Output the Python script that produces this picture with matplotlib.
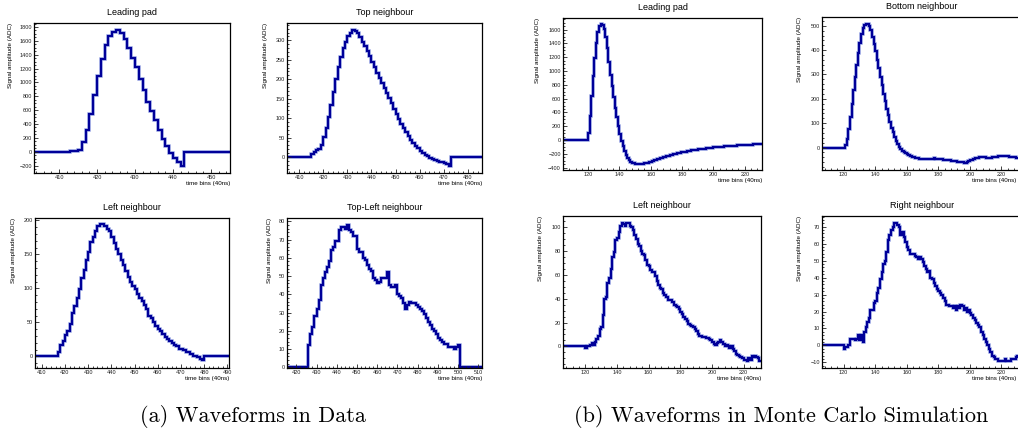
import numpy as np
import matplotlib
matplotlib.use("Agg")
import matplotlib.pyplot as plt
from matplotlib.ticker import MultipleLocator, AutoMinorLocator

plt.rcParams['font.family'] = ['Liberation Sans', 'DejaVu Sans']

# ---- data: waveforms (one value per time bin, starting at *_start) ----
# (a) data
lead_data_start = 412
lead_data = [-5, 5, 10, 25, 145, 310, 540, 815, 1090, 1345, 1535, 1670, 1735, 1750, 1710,
             1630, 1500, 1355, 1220, 1045, 885, 720, 590, 455, 310, 190, 80, -15, -85,
             -145, -210]

top_data_start = 415
top_data = [8, 12, 17, 21, 30, 52, 75, 102, 135, 167, 200, 232, 257, 280, 297, 310, 320,
            326, 325, 318, 308, 297, 285, 272, 259, 245, 231, 217, 203, 190, 178, 165,
            152, 138, 124, 110, 97, 86, 75, 64, 54, 45, 37, 29, 22, 16, 11, 6, 2, -2, -5,
            -8, -10, -12, -14, -16, -19, -22]

left_data_start = 417
left_data = [6, 16, 22, 31, 37, 47, 64, 74, 86, 99, 115, 127, 142, 154, 168, 176, 185, 191,
             194, 194, 191, 187, 184, 176, 167, 158, 150, 142, 135, 125, 117, 110, 104, 99,
             91, 86, 81, 76, 70, 60, 56, 51, 44, 40, 37, 33, 29, 26, 22, 20, 17, 15, 11,
             11, 9, 7, 6, 4, 1, 0, -1.5, -3.4, -6]

topleft_data_start = 426
topleft_data = [12, 18, 22, 28, 32, 37, 45, 49, 52, 55, 58, 64, 66, 69, 69, 75, 77, 77, 76,
                78, 75, 74, 72, 72, 65, 63, 63, 60, 59, 56, 54, 53, 49, 48, 46, 47, 49,
                49, 49, 52, 45, 44, 44, 45, 40, 39, 38, 35, 32, 34, 36, 35, 35, 34, 33, 32,
                31, 29, 27, 25, 23, 21, 20, 18, 16, 15, 14, 13, 13, 11, 11, 11, 10, 11, 12]

# (b) Monte Carlo
lead_mc_start = 120
lead_mc = [100, 350, 640, 930, 1190, 1400, 1570, 1650, 1680, 1670, 1610, 1500, 1330, 1130,
           950, 780, 620, 470, 330, 200, 90,
           -10, -90, -160, -220, -260, -290, -315, -330, -340, -345, -348, -350, -350,
           -348, -345, -340, -335, -330, -322, -315,
           -305, -297, -289, -281, -273, -265, -257, -250, -243, -236, -229, -222, -216,
           -210, -204, -198, -192, -187, -181, -176,
           -172, -168, -164, -160, -156, -152, -148, -145, -141, -138, -135, -132, -129,
           -126, -123, -120, -117, -114, -111, -108,
           -106, -104, -102, -100, -98, -96, -94, -92, -90, -88, -86, -85, -83, -81, -80,
           -78, -76, -75, -73, -71,
           -70, -69, -68, -67, -65, -64, -63, -62, -61, -60, -59, -58, -58]

bottom_mc_start = 121
bottom_mc = [10, 35, 75, 125, 180, 235, 290, 340, 390, 430, 465, 490, 503, 507, 507, 500,
             482, 455, 425, 395, 360, 325, 290, 255, 222, 190, 160, 132, 105, 82, 62, 44,
             28, 14, 3, -6, -13, -19, -24, -28, -32, -35, -38, -40, -42, -43, -44, -45,
             -45, -46,
             -46, -47, -46, -45, -46, -45, -44, -45, -45, -46,
             -47, -48, -49, -50, -51, -52, -53, -54, -55, -56,
             -57, -58, -59, -60, -61, -62, -62, -61, -57, -53,
             -49, -46, -44, -42, -41, -40, -40, -39, -40, -41,
             -42, -42, -41, -40, -39, -38, -37, -36, -35, -35,
             -34, -34, -35, -36, -37, -38, -39, -40, -41, -42, -41, -40, -40]

left_mc_start = 120
left_mc = [-1, 0, 0, 1, 3, 1, 4, 6, 9, 15, 16, 26, 40, 41, 53, 57, 65, 75, 79, 89, 91, 96,
           101, 103, 102, 101, 103, 103, 101, 100, 97, 93, 90, 86, 84, 80, 77, 76, 72, 68,
           67, 64, 62, 62, 59, 55, 51, 49, 48, 45, 43, 41, 39, 39, 39, 37, 35, 34, 33, 31,
           29, 27, 25, 23, 21, 19, 18, 17, 16, 15, 13, 10, 9, 9, 8, 8, 7, 7, 6, 5, 4, 2,
           1, 3, 4, 5, 4, 2, 0, 1, 0, -1, 0, -2, -4, -6, -7, -8, -9, -10, -11, -11, -12,
           -10, -11, -8, -9, -8, -9, -10, -12, -12]

right_mc_start = 120
right_mc = [-2, -1, -1, 0, 4, 4, 4, 3, 4, 6, 3, 6, 2, 8, 11, 14, 16, 21, 21, 25, 26, 31, 34,
            39, 43, 48, 50, 55, 62, 65, 68, 70, 72, 72, 71, 70, 65, 67, 64, 61, 58, 56, 54,
            54, 54, 53, 52, 51, 52, 51, 49, 47, 45, 43, 44, 40, 39, 37, 35, 33, 32, 31, 30,
            28, 26, 24, 24, 23, 23, 22, 23, 21, 23, 22, 24, 23, 21, 22, 20, 21, 19, 18, 16,
            15, 13, 12, 11, 8, 6, 4, 2, 0, -2, -4, -6, -7, -8, -8, -9, -9, -9, -9, -8, -9,
            -9, -9, -8, -8, -8, -7, -6, -6, -5, -5]

titles = ["Leading pad", "Top neighbour", "Left neighbour", "Top-Left neighbour",
          "Leading pad", "Bottom neighbour", "Left neighbour", "Right neighbour"]
starts = [lead_data_start, top_data_start, left_data_start, topleft_data_start,
          lead_mc_start, bottom_mc_start, left_mc_start, right_mc_start]
waves = [lead_data, top_data, left_data, topleft_data,
         lead_mc, bottom_mc, left_mc, right_mc]

# ---- layout (pixels in a 1018x432 canvas) ----
W, H = 1018, 432
boxes = [(34, 230, 23, 173), (287, 482, 23, 173), (35, 229, 218, 368), (287, 482, 218, 368),
         (563, 762, 18, 170), (822, 1022, 17, 170), (563, 761, 216, 368), (822, 1022, 216, 368)]
xlims = [(403.4, 455), (405, 485.8), (407.1, 490.7), (415.4, 511.9),
         (104, 231), (106.3, 233), (105.9, 231), (106.3, 233)]
ylims = [(-307, 1858), (-41, 344.7), (-17.2, 203.4), (-0.4, 81.8),
         (-436, 1770), (-92, 536), (-18, 109), (-13.3, 76.3)]
xmaj = [10, 10, 10, 10, 20, 20, 20, 20]
ymaj = [200, 50, 50, 10, 200, 100, 20, 10]
ymin_n = [4, 5, 5, 5, 4, 5, 4, 5]
ylab_px = [21, 19, 19, 14.5, 23.5, 20.5, 20, 20.5]

line_col = '#000099'

fig = plt.figure(figsize=(W / 100, H / 100), dpi=100)

for i in range(8):
    l, r, t, b = boxes[i]
    ax = fig.add_axes([l / W, 1 - b / H, (r - l) / W, (b - t) / H])

    # pad the waveform with zero bins over the whole window
    lo = int(np.floor(xlims[i][0])) - 1
    hi = int(np.ceil(xlims[i][1])) + 1
    edges = np.arange(lo, hi + 1)
    y = np.zeros(len(edges) - 1)
    i0 = starts[i] - lo
    vals = np.array(waves[i], dtype=float)
    n = min(len(vals), len(y) - i0)
    y[i0:i0 + n] = vals[:n]
    ax.stairs(y, edges, baseline=None, color='#aab6ea', lw=2.6)
    ax.stairs(y, edges, baseline=None, color=line_col, lw=1.6)

    ax.set_xlim(*xlims[i])
    ax.set_ylim(*ylims[i])
    ax.xaxis.set_major_locator(MultipleLocator(xmaj[i]))
    ax.xaxis.set_minor_locator(AutoMinorLocator(5))
    ax.yaxis.set_major_locator(MultipleLocator(ymaj[i]))
    ax.yaxis.set_minor_locator(AutoMinorLocator(ymin_n[i]))
    ax.tick_params(which='both', direction='in', top=False, right=False,
                   labelsize=4, pad=1.5, width=0.6, colors='#222222')
    ax.tick_params(which='major', length=2.6)
    ax.tick_params(which='minor', length=1.3)
    for s in ax.spines.values():
        s.set_linewidth(0.9)

    ax.set_title(titles[i], fontsize=6.5, pad=5.5)
    ax.set_xlabel("time bins (40ns)", fontsize=4.5, loc='right')
    # right-hand MC pads run past the canvas edge; keep the x title inside it
    xr = min(1.0, (1016 - l) / (r - l))
    ax.xaxis.set_label_coords(xr, -8 / (b - t))
    ax.set_ylabel("Signal amplitude (ADC)", fontsize=4.5, loc='top')
    ax.yaxis.set_label_coords(-ylab_px[i] / (r - l), 1)

fig.text(253 / W, 1 - 416 / H, "(a) Waveforms in Data", ha='center', va='center',
         fontfamily='cmr10', fontsize=16)
fig.text(781 / W, 1 - 416 / H, "(b) Waveforms in Monte Carlo Simulation", ha='center',
         va='center', fontfamily='cmr10', fontsize=16)

fig.savefig("out.png", dpi=100)
